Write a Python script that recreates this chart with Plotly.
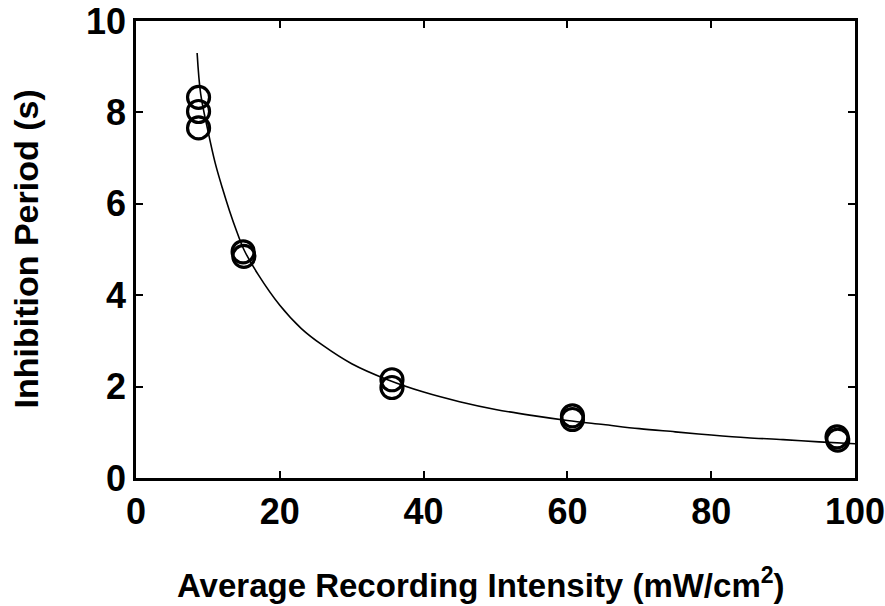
import plotly.graph_objects as go

# Measured points (open circles)
intensity = [8.7, 8.7, 8.7, 14.9, 15.0, 35.6, 35.6, 60.7, 60.7, 97.5, 97.6]
inhibition = [8.33, 8.02, 7.66, 4.95, 4.85, 2.15, 1.98, 1.36, 1.28, 0.90, 0.83]

# Fitted curve
curve_x = [8.5, 9, 10, 11, 12, 13, 14, 15, 17, 20, 23, 26, 30, 35, 40, 45, 50,
           55, 60, 65, 70, 75, 80, 85, 90, 95, 100]
curve_y = [9.3, 8.4, 7.6, 6.9, 6.35, 5.85, 5.4, 5.0, 4.45, 3.78, 3.27, 2.9, 2.5,
           2.15, 1.88, 1.67, 1.5, 1.37, 1.26, 1.17, 1.08, 1.01, 0.94, 0.88, 0.84,
           0.79, 0.75]

x_ticks = [0, 20, 40, 60, 80, 100]
y_ticks = [0, 2, 4, 6, 8, 10]

x_title = "Average Recording Intensity (mW/cm<sup>2</sup>)"
y_title = "Inhibition Period (s)"

FONT = "Liberation Sans, Arial, sans-serif"

fig = go.Figure()
fig.add_trace(go.Scatter(x=curve_x, y=curve_y, mode="lines",
                         line=dict(color="black", width=1.6, shape="spline"),
                         showlegend=False, hoverinfo="skip"))
fig.add_trace(go.Scatter(x=intensity, y=inhibition, mode="markers",
                         marker=dict(symbol="circle-open", size=22, color="black",
                                     line=dict(color="black", width=3.2)),
                         showlegend=False))

axis_common = dict(showgrid=False, zeroline=False, showline=True, linecolor="black",
                   linewidth=2.5, mirror="ticks", ticks="inside", ticklen=7,
                   tickwidth=2, tickcolor="black", automargin=False,
                   tickfont=dict(family=FONT, size=36, color="black", weight="bold"))

fig.update_xaxes(range=[0, 100], tickvals=x_ticks, ticktext=[str(v) for v in x_ticks],
                 ticklabeloverflow="allow", **axis_common)
fig.update_yaxes(range=[0, 10], tickvals=y_ticks, ticktext=[str(v) for v in y_ticks],
                 **axis_common)

fig.add_annotation(text=x_title, xref="paper", yref="paper", x=0.48, y=0,
                   yshift=-105, xanchor="center", yanchor="middle", showarrow=False,
                   font=dict(family=FONT, size=33, color="black", weight="bold"))
fig.add_annotation(text=y_title, xref="paper", yref="paper", x=0, y=0.5,
                   xshift=-111, textangle=-90, xanchor="center", yanchor="middle",
                   showarrow=False,
                   font=dict(family=FONT, size=34, color="black", weight="bold"))

fig.update_layout(width=885, height=606, paper_bgcolor="white", plot_bgcolor="white",
                  margin=dict(l=136, r=30, t=21, b=128, autoexpand=False))

fig.write_html("out.html")
